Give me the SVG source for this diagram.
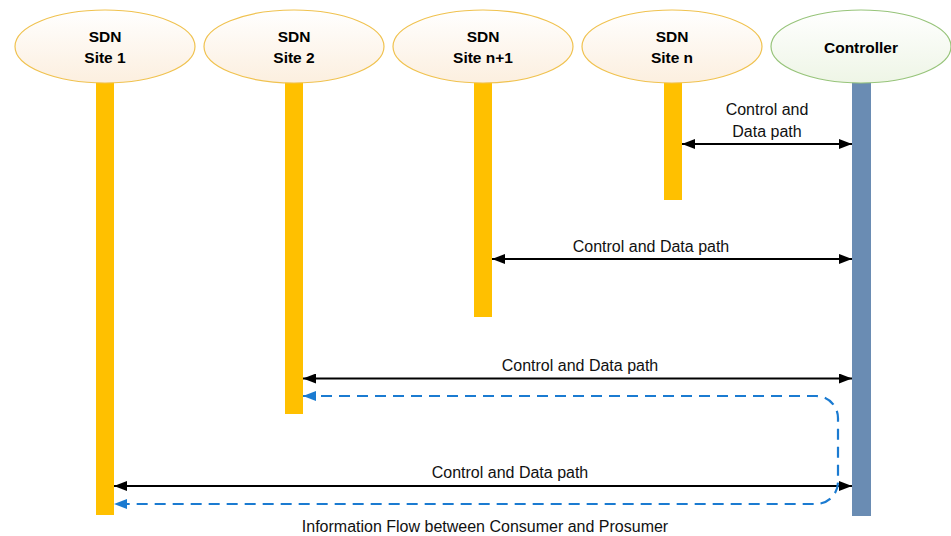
<svg xmlns="http://www.w3.org/2000/svg" width="951" height="536" viewBox="0 0 951 536">
  <defs>
    <linearGradient id="siteFill" x1="0" y1="0" x2="0" y2="1">
      <stop offset="0" stop-color="#ffffff"/>
      <stop offset="1" stop-color="#fcefdf"/>
    </linearGradient>
    <linearGradient id="ctrlFill" x1="0" y1="0" x2="0" y2="1">
      <stop offset="0" stop-color="#ffffff"/>
      <stop offset="1" stop-color="#eef5e6"/>
    </linearGradient>
    <marker id="arrowBlack" viewBox="0 0 13 10" refX="13" refY="5" markerWidth="13" markerHeight="10" markerUnits="userSpaceOnUse" orient="auto-start-reverse">
      <path d="M0,0 L13,5 L0,10 z" fill="#000000"/>
    </marker>
    <marker id="arrowBlue" viewBox="0 0 13 10" refX="13" refY="5" markerWidth="13" markerHeight="10" markerUnits="userSpaceOnUse" orient="auto-start-reverse">
      <path d="M0,0 L13,5 L0,10 z" fill="#1b7bd1"/>
    </marker>
  </defs>
  <style>
    .site ellipse { fill: url(#siteFill); stroke: #f0c24f; stroke-width: 1.2; }
    .ctrl ellipse { fill: url(#ctrlFill); stroke: #97c47a; stroke-width: 1.2; }
    .site rect { fill: #ffc000; }
    .ctrl rect { fill: #6a8cb3; }
    .head { font-family: "Liberation Sans", Arial, sans-serif; font-size: 15.5px; font-weight: bold; fill: #000; text-anchor: middle; }
    .lbl { font-family: "Liberation Sans", Arial, sans-serif; font-size: 16px; fill: #111; text-anchor: middle; }
    .path { fill: none; stroke: #000; stroke-width: 2; marker-start: url(#arrowBlack); marker-end: url(#arrowBlack); }
    .flow { fill: none; stroke: #1b7bd1; stroke-width: 2.2; stroke-dasharray: 11 7; marker-start: url(#arrowBlue); marker-end: url(#arrowBlue); }
  </style>
  <rect width="951" height="536" fill="#ffffff"/>

  <g id="site1" class="site">
    <rect x="96" y="82" width="18" height="433"/>
    <ellipse cx="105" cy="46.5" rx="90" ry="36.5"/>
    <text class="head" x="105" y="42">SDN</text>
    <text class="head" x="105" y="63">Site 1</text>
  </g>

  <g id="site2" class="site">
    <rect x="285" y="82" width="18" height="332"/>
    <ellipse cx="294" cy="46.5" rx="90" ry="36.5"/>
    <text class="head" x="294" y="42">SDN</text>
    <text class="head" x="294" y="63">Site 2</text>
  </g>

  <g id="siteN1" class="site">
    <rect x="474" y="82" width="18" height="235"/>
    <ellipse cx="483" cy="46.5" rx="90" ry="36.5"/>
    <text class="head" x="483" y="42">SDN</text>
    <text class="head" x="483" y="63">Site n+1</text>
  </g>

  <g id="siteN" class="site">
    <rect x="664" y="82" width="18" height="118"/>
    <ellipse cx="672" cy="46.5" rx="90" ry="36.5"/>
    <text class="head" x="672" y="42">SDN</text>
    <text class="head" x="672" y="63">Site n</text>
  </g>

  <g id="controller" class="ctrl">
    <rect x="852" y="82" width="19" height="434"/>
    <ellipse cx="861" cy="46.5" rx="90" ry="36.5"/>
    <text class="head" x="861" y="53">Controller</text>
  </g>

  <g id="connectors">
    <path class="path" d="M682,144 H852"/>
    <path class="path" d="M492,259 H852"/>
    <path class="path" d="M303,378.5 H852"/>
    <path class="path" d="M114,486 H852"/>
    <path class="flow" d="M303,396 H816 A22,22 0 0 1 838,418 V482 A22,22 0 0 1 816,504 H114"/>
  </g>

  <g id="labels">
    <text class="lbl" x="767" y="115">Control and</text>
    <text class="lbl" x="767" y="137">Data path</text>
    <text class="lbl" x="651" y="252">Control and Data path</text>
    <text class="lbl" x="580" y="371">Control and Data path</text>
    <text class="lbl" x="510" y="478">Control and Data path</text>
    <text class="lbl" x="485" y="532">Information Flow between Consumer and Prosumer</text>
  </g>
</svg>
